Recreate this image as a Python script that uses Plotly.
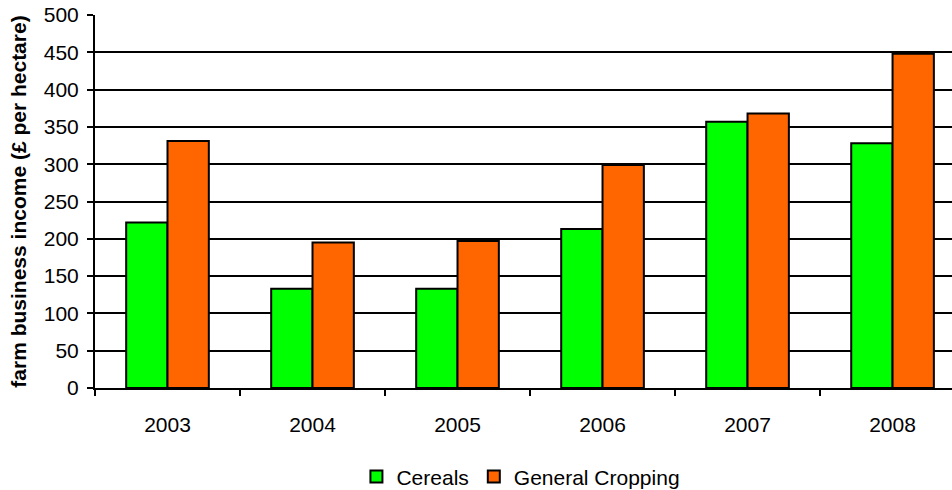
import plotly.graph_objects as go

years = ["2003", "2004", "2005", "2006", "2007", "2008"]
cereals = [222, 133, 133, 213, 357, 328]
general_cropping = [331, 195, 197, 299, 368, 448]
y_ticks = [0, 50, 100, 150, 200, 250, 300, 350, 400, 450, 500]

font_family = "Liberation Sans, Arial, sans-serif"
bar_line = dict(color="black", width=2)

fig = go.Figure()
fig.add_trace(go.Bar(x=years, y=cereals, name="Cereals",
                     marker=dict(color="#00FF00", line=bar_line)))
fig.add_trace(go.Bar(x=years, y=general_cropping, name="General Cropping",
                     marker=dict(color="#FF6600", line=bar_line)))

fig.update_layout(
    width=952, height=490,
    margin=dict(l=95, r=0, t=15, b=102),
    paper_bgcolor="white", plot_bgcolor="white",
    barmode="group", bargap=0.43, bargroupgap=0,
    font=dict(family=font_family, size=21, color="black"),
    showlegend=True,
    legend=dict(orientation="h", x=0.497, xanchor="center",
                yref="container", y=0.027, yanchor="middle",
                font=dict(size=21), itemwidth=30, traceorder="normal"),
)
fig.update_xaxes(
    type="category", range=[-0.5, 5.41], automargin=False,
    showline=True, linecolor="black", linewidth=2,
    ticks="outside", tickson="boundaries", ticklen=6, tickwidth=1.5, tickcolor="black",
    showgrid=False, tickfont=dict(size=21), ticklabelstandoff=17,
)
fig.update_yaxes(
    range=[0, 500], tickvals=y_ticks, automargin=False,
    showline=True, linecolor="black", linewidth=2,
    ticks="outside", ticklen=6, tickwidth=1.5, tickcolor="black",
    showgrid=True, gridcolor="black", gridwidth=2,
    zeroline=False, tickfont=dict(size=21), ticklabelstandoff=4,
    title=dict(text="<b>farm business income (£ per hectare)</b>",
               font=dict(size=21), standoff=11),
)

fig.write_html("out.html")
